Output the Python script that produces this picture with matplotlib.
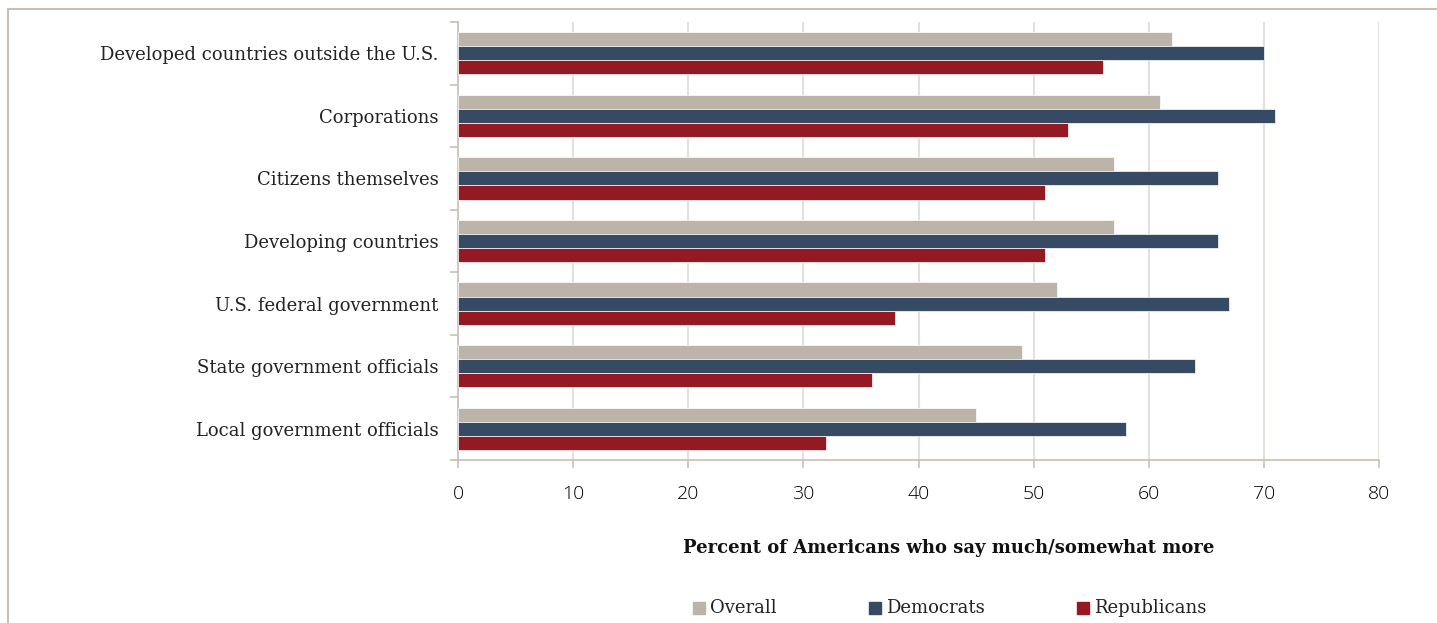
import numpy as np
import matplotlib.pyplot as plt
from matplotlib.patches import Rectangle

# Данные
categories = ["Developed countries outside the U.S.", "Corporations", "Citizens themselves",
              "Developing countries", "U.S. federal government", "State government officials",
              "Local government officials"]
overall = [62, 61, 57, 57, 52, 49, 45]
democrats = [70, 71, 66, 66, 67, 64, 58]
republicans = [56, 53, 51, 51, 38, 36, 32]
x_ticks = [0, 10, 20, 30, 40, 50, 60, 70, 80]

c_over = "#bcb3a9"
c_dem = "#364a63"
c_rep = "#931a23"
grid_c = "#e4e1dc"
axis_c = "#c8c0b8"

plt.rcParams['font.family'] = ['DejaVu Serif']

fig = plt.figure(figsize=(14.37, 6.23), dpi=100)
ax = fig.add_axes([458/1437, 1 - 460/623, (1379 - 458)/1437, (460 - 22)/623])

# Рамка рисунка (сверху и слева)
fig.add_artist(Rectangle((8/1437, -0.1), 1.2, 1.1 - 9/623, transform=fig.transFigure,
                         fill=False, edgecolor=axis_c, linewidth=1.5))

n = len(categories)
y = np.arange(n)[::-1].astype(float)
h = 0.225
ax.barh(y + h, overall, height=h, color=c_over, edgecolor="white", linewidth=0.5, zorder=3)
ax.barh(y, democrats, height=h, color=c_dem, edgecolor="white", linewidth=0.5, zorder=3)
ax.barh(y - h, republicans, height=h, color=c_rep, edgecolor="white", linewidth=0.5, zorder=3)

ax.set_xlim(0, 80)
ax.set_ylim(-0.5, n - 0.5)
ax.set_xticks(x_ticks)
ax.set_xticklabels([str(t) for t in x_ticks], fontsize=14, color="#000000",
                   family=["Open Sans", "DejaVu Sans"], fontweight="light")
ax.xaxis.grid(True, color=grid_c, linewidth=1.5, zorder=0)

ax.set_yticks(y)
ax.set_yticklabels(categories, fontsize=13, color="#222222")
ax.tick_params(axis="y", length=0, pad=14)
ax.set_yticks(np.arange(n + 1) - 0.5, minor=True)
ax.tick_params(axis="y", which="minor", length=6, color=axis_c, width=1.2)
ax.tick_params(axis="x", length=6, color=axis_c, width=1.2, pad=12)

for s in ["top", "right"]:
    ax.spines[s].set_visible(False)
ax.spines["left"].set_color(axis_c)
ax.spines["bottom"].set_color(axis_c)
ax.spines["left"].set_linewidth(1.2)
ax.spines["bottom"].set_linewidth(1.2)

fig.text(949/1437, 1 - 548/623, "Percent of Americans who say much/somewhat more",
         ha="center", va="center", fontsize=13, fontweight="bold", color="#111111")

# Легенда
leg_items = [("Overall", c_over, 693), ("Democrats", c_dem, 869), ("Republicans", c_rep, 1077)]
for label, col, px in leg_items:
    fig.add_artist(Rectangle((px/1437, 1 - 614/623), 12/1437, 12/623,
                             transform=fig.transFigure, color=col))
    fig.text((px + 17)/1437, 1 - 608/623, label, ha="left", va="center",
             fontsize=13, color="#222222")

fig.savefig("out.png", dpi=100)
